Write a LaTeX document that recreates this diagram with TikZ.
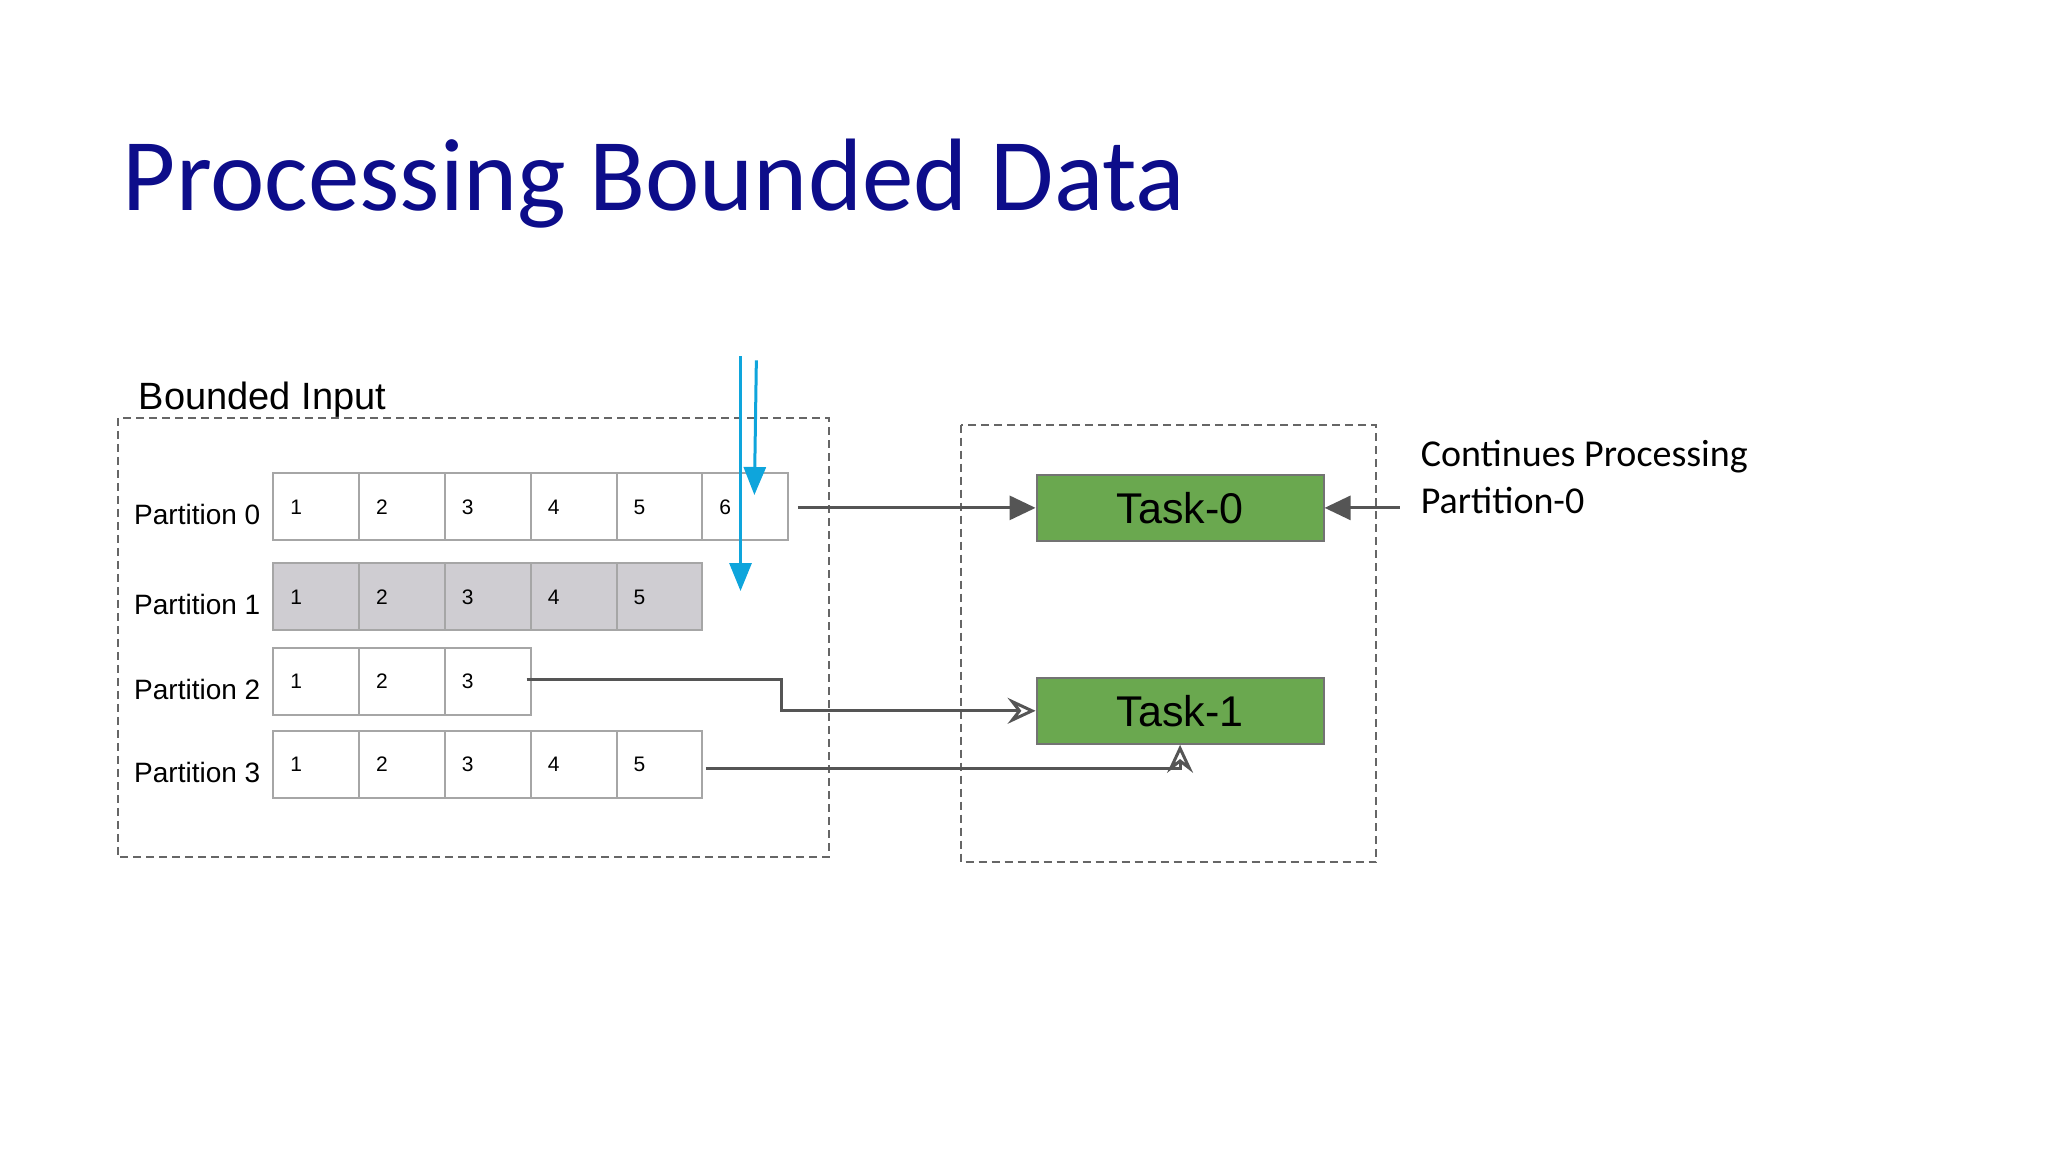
\documentclass[tikz,border=0pt]{standalone}
\usepackage{fontspec}
\setmainfont{Liberation Sans}
\newfontfamily\calib{Carlito}
\usetikzlibrary{arrows.meta}
\definecolor{navy}{HTML}{0D0D8A}
\definecolor{taskgreen}{HTML}{6AA84F}
\definecolor{cellgray}{HTML}{CFCDD2}
\definecolor{linegray}{HTML}{555555}
\definecolor{skyblue}{HTML}{0EA5DC}
\tikzset{
  cell/.style={draw=gray!70, line width=2pt, minimum width=85.8pt, minimum height=67pt,
    inner sep=0pt, font=\fontsize{21}{24}\selectfont, text depth=0pt},
  plabel/.style={anchor=west, font=\fontsize{28}{32}\selectfont},
  task/.style={draw=gray!90!black, line width=2pt, fill=taskgreen, minimum width=287pt,
    minimum height=66pt, font=\fontsize{43}{48}\selectfont},
  box/.style={draw=gray!80!black, dashed, dash pattern=on 8pt off 5pt, line width=1.8pt},
  conn/.style={draw=linegray, line width=3pt},
  blue/.style={draw=skyblue, line width=3pt, -{Triangle[length=28pt,width=22pt]}}
}
\begin{document}
\begin{tikzpicture}[x=0.99pt,y=-0.99pt]
\useasboundingbox (0,0) rectangle (2068.7,1163.6);
\node[anchor=base west, text=navy, font=\calib\fontsize{103}{110}\selectfont, inner sep=0pt] (title) at (124,213) {Processing Bounded Data};

% boxes
\draw[box] (119,422) rectangle (837,866);
\draw[box] (971,429) rectangle (1390,871);
\node[anchor=base west, inner sep=0pt, font=\fontsize{38}{42}\selectfont] (bi) at (140,414) {Bounded Input};

% partitions
\foreach \r/\n/\y/\fillc in {0/6/512/white, 1/5/603/cellgray, 2/3/688/white, 3/5/772/white}{
  \node[plabel] (pl\r) at (132,\y+8) {Partition \r};
  \foreach \i in {1,...,\n}{
    \node[cell, fill=\fillc] (c\r-\i) at ({276+86.7*(\i-0.5)},\y) {\hspace*{-40pt}\i};
  }
}

% tasks
\node[task] (t0) at (1192,513) {Task-0};
\node[task] (t1) at (1192,718) {Task-1};

\node[anchor=base west, inner sep=0pt, align=left, font=\calib\fontsize{38}{47}\selectfont] (cp) at (1435,519) {Continues Processing\\Partition-0};

% connectors
\coordinate (s0) at (806,513);
\coordinate (s2) at (532,686);
\coordinate (s3) at (713,776);
\coordinate (e0) at (1414,513);
\draw[conn, -{Triangle[length=26pt,width=24pt]}] (s0) -- (t0.west);
\draw[conn, -{Triangle[length=26pt,width=24pt]}] (e0) -- (t0.east);
\draw[conn, -{Stealth[open,length=28pt,width=26pt,inset=10pt]}] (s2) -- (789,686) -- (789,718) -- (t1.west);
\draw[conn, -{Stealth[open,length=28pt,width=26pt,inset=10pt]}] (s3) -- (1192,776) -- (t1.south);

% blue markers
\coordinate (b1s) at (748,360);
\coordinate (b1e) at (748,597);
\coordinate (b2s) at (764,364);
\coordinate (b2e) at (762,500);
\draw[blue] (b1s) -- (b1e);
\draw[blue] (b2s) -- (b2e);
\end{tikzpicture}
\end{document}
